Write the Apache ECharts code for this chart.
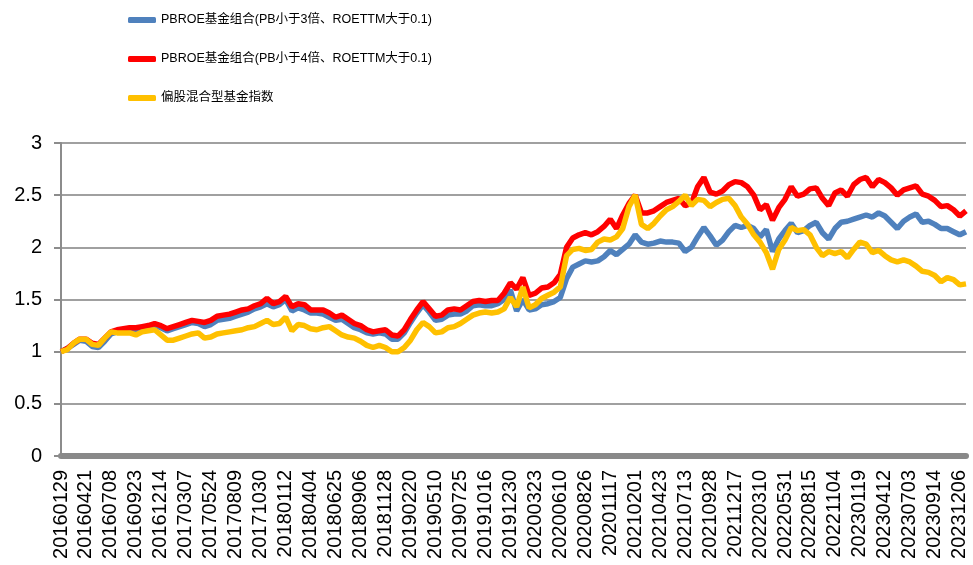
<!DOCTYPE html>
<html>
<head>
<meta charset="utf-8">
<script src="https://cdn.jsdelivr.net/npm/echarts@6/dist/echarts.min.js"></script>
<style>
  html, body { margin: 0; padding: 0; background: #fff; }
  #chart { width: 973px; height: 565px; }
</style>
</head>
<body>
<div id="chart"></div>
<script>
// tick labels on the date axis, 4 readings between each pair
const tickLabels = [
  "20160129", "20160421", "20160708", "20160923", "20161214", "20170307",
  "20170524", "20170809", "20171030", "20180112", "20180404", "20180625",
  "20180906", "20181128", "20190220", "20190510", "20190725", "20191016",
  "20191230", "20200323", "20200610", "20200826", "20201117", "20210201",
  "20210423", "20210713", "20210928", "20211217", "20220310", "20220531",
  "20220815", "20221104", "20230119", "20230412", "20230703", "20230914",
  "20231206",
];
const stepsPerLabel = 4;

const seriesNames = [
  "PBROE基金组合(PB小于3倍、ROETTM大于0.1)",
  "PBROE基金组合(PB小于4倍、ROETTM大于0.1)",
  "偏股混合型基金指数",
];

// PB < 3
const pb3 = [
  1.00, 1.03, 1.07, 1.11, 1.10, 1.05, 1.04, 1.10, 1.17, 1.19,
  1.20, 1.21, 1.21, 1.22, 1.23, 1.25, 1.23, 1.20, 1.22, 1.24,
  1.26, 1.28, 1.27, 1.24, 1.26, 1.30, 1.31, 1.32, 1.34, 1.36,
  1.38, 1.41, 1.43, 1.46, 1.43, 1.45, 1.50, 1.39, 1.42, 1.40,
  1.37, 1.37, 1.36, 1.33, 1.30, 1.31, 1.27, 1.23, 1.21, 1.18,
  1.17, 1.18, 1.17, 1.12, 1.12, 1.18, 1.28, 1.37, 1.45, 1.38,
  1.30, 1.31, 1.35, 1.36, 1.36, 1.39, 1.44, 1.45, 1.44, 1.44,
  1.46, 1.50, 1.59, 1.39, 1.50, 1.40, 1.41, 1.45, 1.46, 1.48,
  1.52, 1.70, 1.81, 1.84, 1.87, 1.86, 1.87, 1.91, 1.97, 1.93,
  1.98, 2.03, 2.12, 2.05, 2.03, 2.04, 2.06, 2.05, 2.05, 2.04,
  1.96, 2.00, 2.10, 2.19, 2.11, 2.02, 2.07, 2.15, 2.21, 2.19,
  2.21, 2.18, 2.10, 2.17, 1.96, 2.08, 2.16, 2.23, 2.14, 2.16,
  2.21, 2.24, 2.14, 2.08, 2.18, 2.24, 2.25, 2.27, 2.29, 2.31,
  2.29, 2.33, 2.30, 2.24, 2.18, 2.25, 2.29, 2.32, 2.24, 2.25,
  2.22, 2.18, 2.18, 2.15, 2.12, 2.15,
];

// PB < 4
const pb4 = [
  1.00, 1.03, 1.08, 1.12, 1.12, 1.08, 1.07, 1.13, 1.19, 1.21,
  1.22, 1.23, 1.23, 1.24, 1.25, 1.27, 1.25, 1.22, 1.24, 1.26,
  1.28, 1.30, 1.29, 1.28, 1.30, 1.34, 1.35, 1.36, 1.38, 1.40,
  1.41, 1.44, 1.46, 1.51, 1.46, 1.48, 1.53, 1.43, 1.46, 1.45,
  1.40, 1.40, 1.40, 1.37, 1.33, 1.35, 1.31, 1.27, 1.25, 1.21,
  1.19, 1.20, 1.21, 1.16, 1.15, 1.21, 1.31, 1.40, 1.48, 1.41,
  1.34, 1.35, 1.40, 1.41, 1.40, 1.44, 1.48, 1.49, 1.48, 1.49,
  1.49, 1.56, 1.66, 1.60, 1.71, 1.54, 1.56, 1.61, 1.62, 1.66,
  1.74, 2.00, 2.09, 2.12, 2.14, 2.12, 2.15, 2.20, 2.27, 2.18,
  2.31, 2.42, 2.50, 2.33, 2.33, 2.35, 2.39, 2.43, 2.45, 2.47,
  2.40, 2.42, 2.58, 2.67, 2.53, 2.51, 2.54, 2.60, 2.63, 2.62,
  2.58, 2.50, 2.36, 2.41, 2.26, 2.38, 2.46, 2.58, 2.49, 2.51,
  2.56, 2.57, 2.47, 2.40, 2.52, 2.55, 2.49, 2.60, 2.65, 2.67,
  2.58, 2.65, 2.62, 2.57, 2.50, 2.55, 2.57, 2.59, 2.51, 2.49,
  2.45, 2.39, 2.40, 2.36, 2.30, 2.35,
];

// 偏股混合型基金指数
const fundIndex = [
  1.00, 1.02, 1.08, 1.12, 1.12, 1.07, 1.06, 1.13, 1.19, 1.18,
  1.18, 1.18, 1.16, 1.19, 1.20, 1.21, 1.16, 1.11, 1.11, 1.13,
  1.15, 1.17, 1.18, 1.13, 1.14, 1.17, 1.18, 1.19, 1.20, 1.21,
  1.23, 1.24, 1.27, 1.30, 1.26, 1.27, 1.33, 1.20, 1.26, 1.25,
  1.22, 1.21, 1.23, 1.24, 1.20, 1.16, 1.14, 1.13, 1.10, 1.06,
  1.04, 1.06, 1.04, 1.00, 1.00, 1.04, 1.11, 1.21, 1.28, 1.24,
  1.18, 1.19, 1.23, 1.24, 1.27, 1.31, 1.35, 1.37, 1.38, 1.37,
  1.38, 1.41, 1.52, 1.43, 1.62, 1.42, 1.45, 1.51, 1.54, 1.57,
  1.62, 1.92, 1.98, 1.99, 1.97, 1.98, 2.05, 2.08, 2.07, 2.10,
  2.18, 2.39, 2.50, 2.22, 2.18, 2.23, 2.30, 2.36, 2.39, 2.44,
  2.50, 2.40, 2.46, 2.45, 2.39, 2.43, 2.46, 2.47, 2.40, 2.29,
  2.22, 2.12, 2.05, 1.95, 1.79, 1.98, 2.07, 2.19, 2.16, 2.17,
  2.12, 2.00, 1.92, 1.96, 1.94, 1.96, 1.90, 1.98, 2.05, 2.03,
  1.95, 1.97, 1.92, 1.88, 1.86, 1.88, 1.86, 1.82, 1.77, 1.76,
  1.73, 1.67, 1.71, 1.69, 1.64, 1.65,
];

const yTicks = { min: 0, max: 3, interval: 0.5 };

// category axis: a date at every 4th slot, blanks in between
const categories = [];
tickLabels.forEach((d, i) => {
  categories.push(d);
  const fill = i < tickLabels.length - 1 ? stepsPerLabel - 1 : pb3.length - categories.length;
  for (let j = 0; j < fill; j++) categories.push("");
});

const chart = echarts.init(document.getElementById("chart"));

const font = "'Liberation Sans', Arial, 'Noto Sans CJK SC', sans-serif";

const option = {
  animation: false,
  color: ["#4F81BD", "#FF0000", "#FFC000"],
  legend: {
    orient: "vertical",
    left: 128,
    top: 13,
    padding: 0,
    itemWidth: 28,
    itemHeight: 6,
    itemGap: 25,
    icon: "roundRect",
    data: seriesNames,
    textStyle: { fontFamily: font, fontSize: 12.5, lineHeight: 14, color: "#000" },
  },
  grid: { left: 61, right: 7, top: 143, bottom: 109, containLabel: false },
  xAxis: {
    type: "category",
    data: categories,
    boundaryGap: false,
    offset: 3,
    axisLine: { show: true, lineStyle: { color: "#898989", width: 6 } },
    axisTick: { show: false },
    axisLabel: {
      interval: stepsPerLabel - 1,
      rotate: 90,
      margin: 11,
      fontFamily: font,
      fontSize: 20,
      color: "#000",
    },
    splitLine: { show: false },
  },
  yAxis: {
    type: "value",
    min: yTicks.min,
    max: yTicks.max,
    interval: yTicks.interval,
    axisLine: { show: true, lineStyle: { color: "#8c8c8c", width: 2 } },
    axisTick: { show: true, length: 7, lineStyle: { color: "#8c8c8c", width: 2 } },
    axisLabel: { fontFamily: font, fontSize: 20, color: "#000", margin: 19 },
    splitLine: { lineStyle: { color: "#a0a0a0", width: 2 } },
  },
  series: [pb3, pb4, fundIndex].map((vals, i) => ({
    name: seriesNames[i],
    type: "line",
    data: vals,
    symbol: "none",
    smooth: false,
    lineStyle: { width: 5.5 },
    z: 2 + i,
  })),
};

chart.setOption(option);
</script>
</body>
</html>
